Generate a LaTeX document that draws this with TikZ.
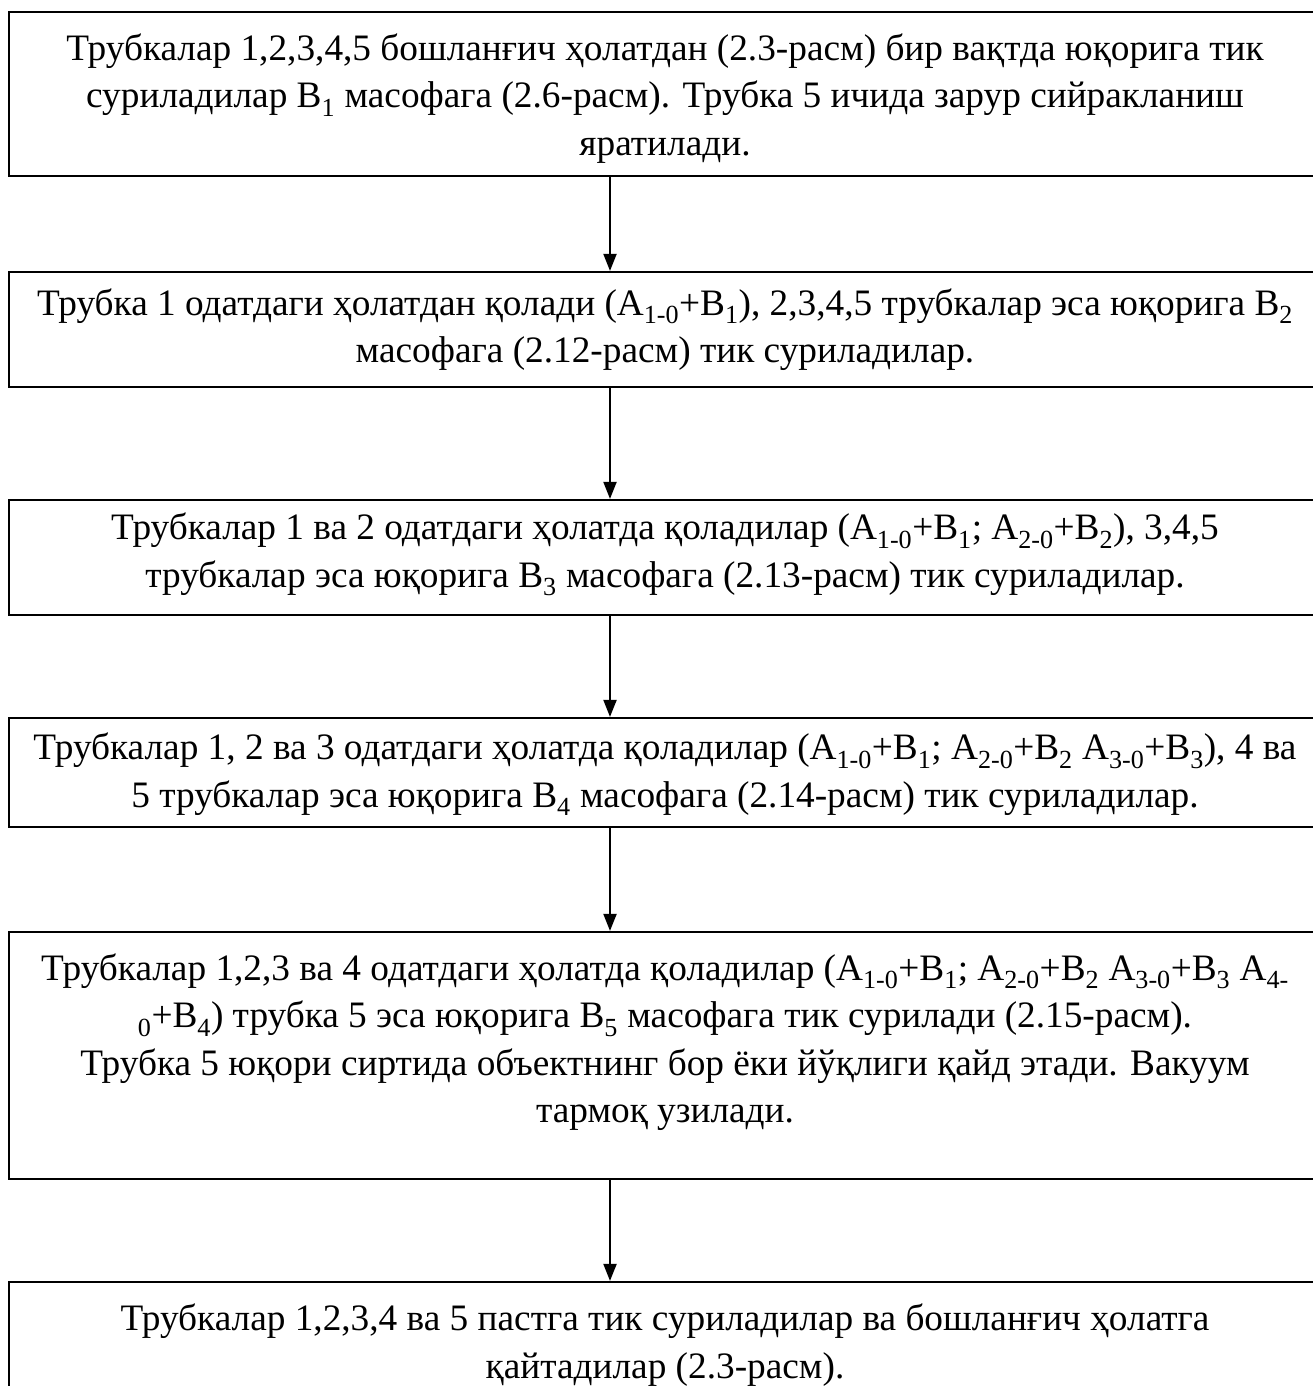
\documentclass[tikz,border=0pt]{standalone}
\usepackage{fontspec}
\setmainfont{Liberation Serif}
\usetikzlibrary{arrows.meta}
\tikzset{
  stepbox/.style={draw=black, line width=2.2pt, minimum width=1312pt, inner sep=0pt, fill=none},
  steptext/.style={align=center, inner sep=0pt, font=\fontsize{37.3}{47.5}\selectfont},
  flowarrow/.style={line width=2pt, -{Triangle[length=17pt,width=13pt]}}
}
\newcommand{\sbs}[1]{\textsubscript{#1}}
\begin{document}
\begin{tikzpicture}[x=1pt,y=-1pt]
\useasboundingbox (0,0) rectangle (1313,1386);
\clip (0,0) rectangle (1313,1386);
\fill[white] (0,0) rectangle (1313,1386);

\coordinate (ax) at (610,0);

\node[stepbox, minimum height=164pt] (b1) at (665,94) {};
\node[stepbox, minimum height=115pt] (b2) at (665,329.5) {};
\node[stepbox, minimum height=115pt] (b3) at (665,557.5) {};
\node[stepbox, minimum height=109pt] (b4) at (665,772.5) {};
\node[stepbox, minimum height=247pt] (b5) at (665,1055.5) {};
\node[stepbox, minimum height=144pt] (b6) at (665,1354) {};

\node[steptext] (t1) at (665,98.5) {Трубкалар 1,2,3,4,5 бошланғич ҳолатдан (2.3-расм) бир вақтда юқорига тик\\ суриладилар B\sbs{1} масофага (2.6-расм). Трубка 5 ичида зарур сийракланиш\\ яратилади.};
\node[steptext] (t2) at (665,329.5) {Трубка 1 одатдаги ҳолатдан қолади (A\sbs{1-0}+B\sbs{1}), 2,3,4,5 трубкалар эса юқорига B\sbs{2}\\ масофага (2.12-расм) тик суриладилар.};
\node[steptext] (t3) at (665,554.5) {Трубкалар 1 ва 2 одатдаги ҳолатда қоладилар (A\sbs{1-0}+B\sbs{1}; A\sbs{2-0}+B\sbs{2}), 3,4,5\\ трубкалар эса юқорига B\sbs{3} масофага (2.13-расм) тик суриладилар.};
\node[steptext] (t4) at (665,774.5) {Трубкалар 1, 2 ва 3 одатдаги ҳолатда қоладилар (A\sbs{1-0}+B\sbs{1}; A\sbs{2-0}+B\sbs{2} A\sbs{3-0}+B\sbs{3}), 4 ва\\ 5 трубкалар эса юқорига B\sbs{4} масофага (2.14-расм) тик суриладилар.};
\node[steptext] (t5) at (665,1042) {Трубкалар 1,2,3 ва 4 одатдаги ҳолатда қоладилар (A\sbs{1-0}+B\sbs{1}; A\sbs{2-0}+B\sbs{2} A\sbs{3-0}+B\sbs{3} A\sbs{4-}\\ \sbs{0}+B\sbs{4}) трубка 5 эса юқорига B\sbs{5} масофага тик сурилади (2.15-расм).\\ Трубка 5 юқори сиртида объектнинг бор ёки йўқлиги қайд этади. Вакуум\\ тармоқ узилади.};
\node[steptext] (t6) at (665,1345) {Трубкалар 1,2,3,4 ва 5 пастга тик суриладилар ва бошланғич ҳолатга\\ қайтадилар (2.3-расм).};

\draw[flowarrow] (b1.south -| ax) -- (b2.north -| ax);
\draw[flowarrow] (b2.south -| ax) -- (b3.north -| ax);
\draw[flowarrow] (b3.south -| ax) -- (b4.north -| ax);
\draw[flowarrow] (b4.south -| ax) -- (b5.north -| ax);
\draw[flowarrow] (b5.south -| ax) -- (b6.north -| ax);
\end{tikzpicture}
\end{document}
